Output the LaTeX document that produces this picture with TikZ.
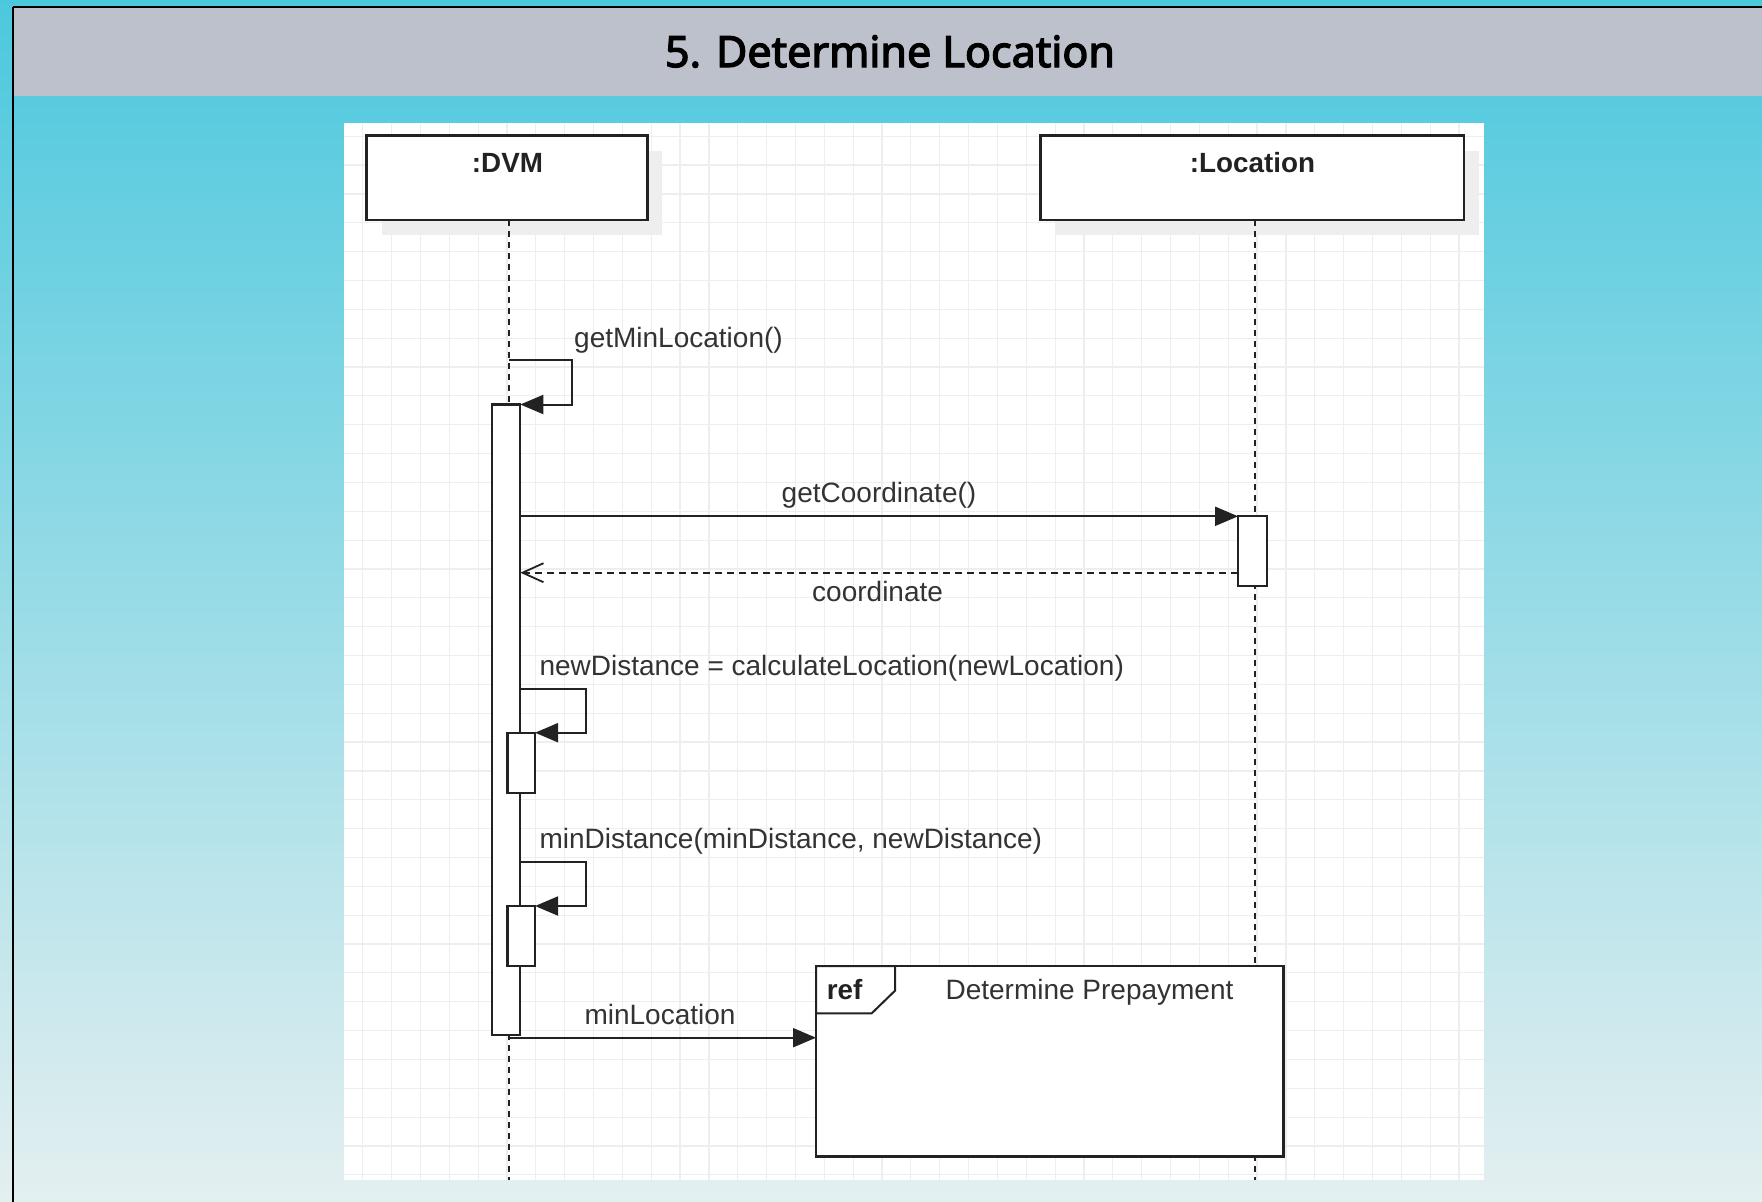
\documentclass[tikz,border=0pt]{standalone}
\usepackage{fontspec}
\setmainfont{Liberation Sans}
\newfontfamily\titlefont{Noto Sans}[AutoFakeBold=3]
\usetikzlibrary{arrows.meta}

\definecolor{bgtop}{HTML}{4CC8DD}
\definecolor{bgbot}{HTML}{E4EFF0}
\definecolor{headgray}{HTML}{BDC1CC}
\definecolor{gridc}{HTML}{EEEEEE}
\definecolor{shadowc}{HTML}{EEEEEE}
\definecolor{ink}{HTML}{222222}
\definecolor{txt}{HTML}{333333}

\begin{document}
\begin{tikzpicture}[x=1pt,y=-1pt,
  box/.style={draw=ink, line width=2.5pt, fill=white, inner sep=0pt, outer sep=0pt},
  bar/.style={draw=ink, line width=2.3pt, fill=white, inner sep=0pt, outer sep=0pt},
  lifeline/.style={draw=ink, line width=2pt, dash pattern=on 6pt off 5pt},
  msg/.style={draw=ink, line width=2pt, -{Triangle[length=23pt,width=19pt]}},
  ret/.style={draw=ink, line width=2pt, dash pattern=on 7pt off 5pt, -{Straight Barb[length=21pt,width=19pt,line width=1.8pt]}},
  lbl/.style={text=txt, font=\fontsize{28}{32}\selectfont, inner sep=0pt},
  ptext/.style={text=ink, font=\bfseries\fontsize{27.8}{31}\selectfont, inner sep=0pt},
  reftext/.style={text=txt, font=\fontsize{28}{32}\selectfont, inner sep=0pt}
]
\useasboundingbox (0,0) rectangle (1762,1202);

% background
\shade[top color=bgtop, bottom color=bgbot] (0,0) rectangle (1762,1202);
\fill[headgray] (13,6.5) rectangle (1762,96);
\draw[black, line width=2pt] (13,6.5) -- (1762,6.5);
\draw[black, line width=2pt] (13,6.5) -- (13,1202);
\node[font=\titlefont\bfseries\fontsize{43}{48}\selectfont, anchor=base, inner sep=0pt] (title) at (890,67) {5. Determine Location};

% canvas with grid
\fill[white] (344,122.5) rectangle (1484,1179.5);
\begin{scope}
  \clip (344,122.5) rectangle (1484,1179.5);
  \foreach \k in {0,...,38} \draw[gridc, line width=1.2pt] (362.7+28.85*\k,122.5) -- (362.7+28.85*\k,1179.5);
  \foreach \k in {0,...,36} \draw[gridc, line width=1.2pt] (344,136.2+28.85*\k) -- (1484,136.2+28.85*\k);
\end{scope}

% shadows
\fill[shadowc] (381.7,150.7) rectangle (662,235);
\fill[shadowc] (1055.7,150.7) rectangle (1479,235);

% participants
\node[box, minimum width=280.6pt, minimum height=84.3pt] (dvm) at (507,177.85) {};
\node[box, minimum width=423.3pt, minimum height=84.3pt] (loc) at (1252.35,177.85) {};
\node[ptext, anchor=base] (dvmt) at (507.5,172.3) {:DVM};
\node[ptext, anchor=base] (loct) at (1252.5,172.3) {:Location};

% lifelines
\coordinate (dvmtop) at (508.5,220);
\coordinate (dvmend) at (508.5,1179.5);
\coordinate (loctop) at (1254.5,220);
\coordinate (locend) at (1254.5,1179.5);
\draw[lifeline] (dvmtop) -- (dvmend);
\draw[lifeline] (loctop) -- (locend);

% activation bars
\node[bar, minimum width=28pt, minimum height=630.5pt] (act1) at (506.3,719.75) {};
\node[bar, minimum width=29pt, minimum height=69.7pt] (act2) at (1252.6,551.15) {};
\node[bar, minimum width=27.7pt, minimum height=60.6pt] (act3) at (521.2,763) {};
\node[bar, minimum width=27.7pt, minimum height=60pt] (act4) at (521.2,936) {};

% messages
\coordinate (m1s) at (508.5,360);
\draw[msg] (m1s) -- ++(63.8,0) |- (act1.north east);
\draw[msg] (act2.north west -| act1.east) -- (act2.north west);
\coordinate (rety) at (0,572.7);
\draw[ret] (act2.west |- rety) -- (act1.east |- rety);
\coordinate (m2y) at (0,689.3);
\draw[msg] (act1.east |- m2y) -- ++(65.4,0) |- (act3.north east);
\coordinate (m3y) at (0,862.3);
\draw[msg] (act1.east |- m3y) -- ++(65.4,0) |- (act4.north east);

% ref frame
\node[box, minimum width=467.3pt, minimum height=190.7pt] (ref) at (1049.65,1061.35) {};
\draw[ink, line width=2pt, fill=white] (ref.north west) -- ++(79,0) -- ++(0,24.7) -- ++(-23.3,22.6) -- ++(-55.7,0) -- cycle;
\node[ptext, anchor=base west] (reft) at (826.7,999) {ref};
\node[reftext, anchor=base] (refn) at (1089.5,999) {Determine Prepayment};

\coordinate (m5y) at (0,1037.7);
\draw[msg] (dvmtop |- m5y) -- (ref.west |- m5y);

% labels
\node[lbl, anchor=base west] (l1) at (574,347.5) {getMinLocation()};
\node[lbl, anchor=base] (l2) at (879,502) {getCoordinate()};
\node[lbl, anchor=base] (l3) at (877.6,601) {coordinate};
\node[lbl, anchor=base west] (l4) at (539.3,675) {newDistance = calculateLocation(newLocation)};
\node[lbl, anchor=base west] (l5) at (539.3,848.3) {minDistance(minDistance, newDistance)};
\node[lbl, anchor=base] (l6) at (660,1024) {minLocation};
\end{tikzpicture}
\end{document}
